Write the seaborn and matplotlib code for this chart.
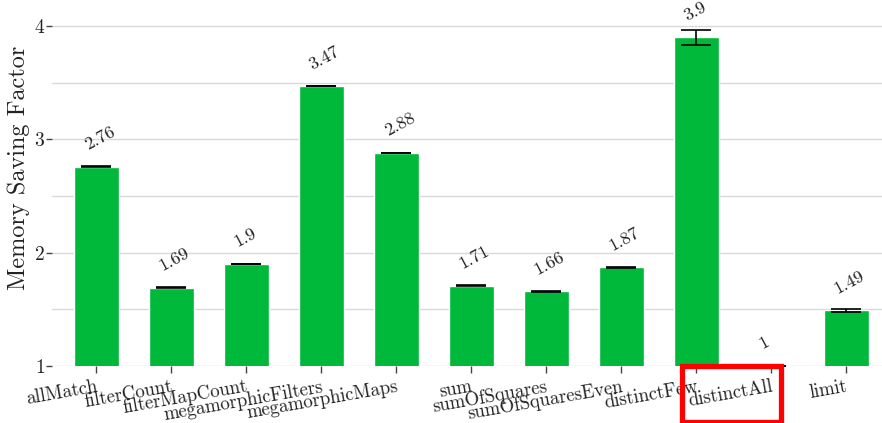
import matplotlib
matplotlib.use("Agg")
import matplotlib.pyplot as plt
import seaborn as sns
import numpy as np
import pandas as pd
from matplotlib.patches import Rectangle
from matplotlib.ticker import MultipleLocator

categories = ["allMatch", "filterCount", "filterMapCount", "megamorphicFilters",
              "megamorphicMaps", "sum", "sumOfSquares", "sumOfSquaresEven",
              "distinctFew", "distinctAll", "limit"]
values = [2.76, 1.69, 1.9, 3.47, 2.88, 1.71, 1.66, 1.87, 3.9, 1.0, 1.49]
errors = [0.003, 0.003, 0.003, 0.003, 0.003, 0.003, 0.003, 0.003, 0.067, 0.003, 0.012]
value_labels = ["2.76", "1.69", "1.9", "3.47", "2.88", "1.71", "1.66", "1.87", "3.9", "1", "1.49"]
highlight = "distinctAll"

sns.set_theme(style="white")
plt.rcParams["font.family"] = ["cmr10", "DejaVu Serif"]
plt.rcParams["axes.formatter.use_mathtext"] = True

df = pd.DataFrame({"benchmark": categories, "factor": values})

fig = plt.figure(figsize=(8.82, 4.23), dpi=100)
ax = fig.add_axes([0.059, 0.1348, 0.941, 0.8652])

sns.barplot(data=df, x="benchmark", y="factor", color="#00b83a", saturation=1,
            width=0.6, errorbar=None, ax=ax, zorder=2)
x = np.arange(len(categories))
ax.errorbar(x, values, yerr=errors, fmt="none", ecolor="black", elinewidth=1.2,
            capsize=11, capthick=1.2, zorder=3)

for xi, v, lab in zip(x, values, value_labels):
    ax.annotate(lab, (xi, v), xytext=(-5, 10), textcoords="offset points",
                ha="left", va="bottom", rotation=28, rotation_mode="anchor",
                fontsize=13, color="#222222")

ax.set_ylim(1, 4.23)
ax.set_xlim(-0.587, 10.48)
ax.yaxis.set_major_locator(MultipleLocator(1))
ax.yaxis.set_minor_locator(MultipleLocator(0.5))
ax.grid(axis="y", which="both", color="#d9d9d9", linewidth=1, zorder=0)
ax.set_axisbelow(True)
for s in ax.spines.values():
    s.set_visible(False)

ax.set_xlabel("")
ax.set_ylabel("Memory Saving Factor", fontsize=17.5, color="#222222", labelpad=3, y=0.54)
ax.tick_params(axis="y", which="major", left=True, length=4, width=1, color="#444444",
               labelsize=14, labelcolor="#222222", pad=1)
ax.tick_params(axis="y", which="minor", left=False)
ax.tick_params(axis="x", bottom=True, length=5, width=1, color="#444444",
               labelsize=13.5, labelcolor="#222222", pad=3.5)
ax.set_xticks(x)
ax.set_xticklabels(categories, rotation=10, ha="right", rotation_mode="anchor")

# red highlight box around the distinctAll label
rect = Rectangle((682 / 882, 1 - 422 / 423), 99 / 882, 56 / 423, transform=fig.transFigure,
                 fill=False, edgecolor="#ff0000", linewidth=3.8, clip_on=False, zorder=10)
fig.patches.append(rect)

fig.savefig("out.png", dpi=100)
